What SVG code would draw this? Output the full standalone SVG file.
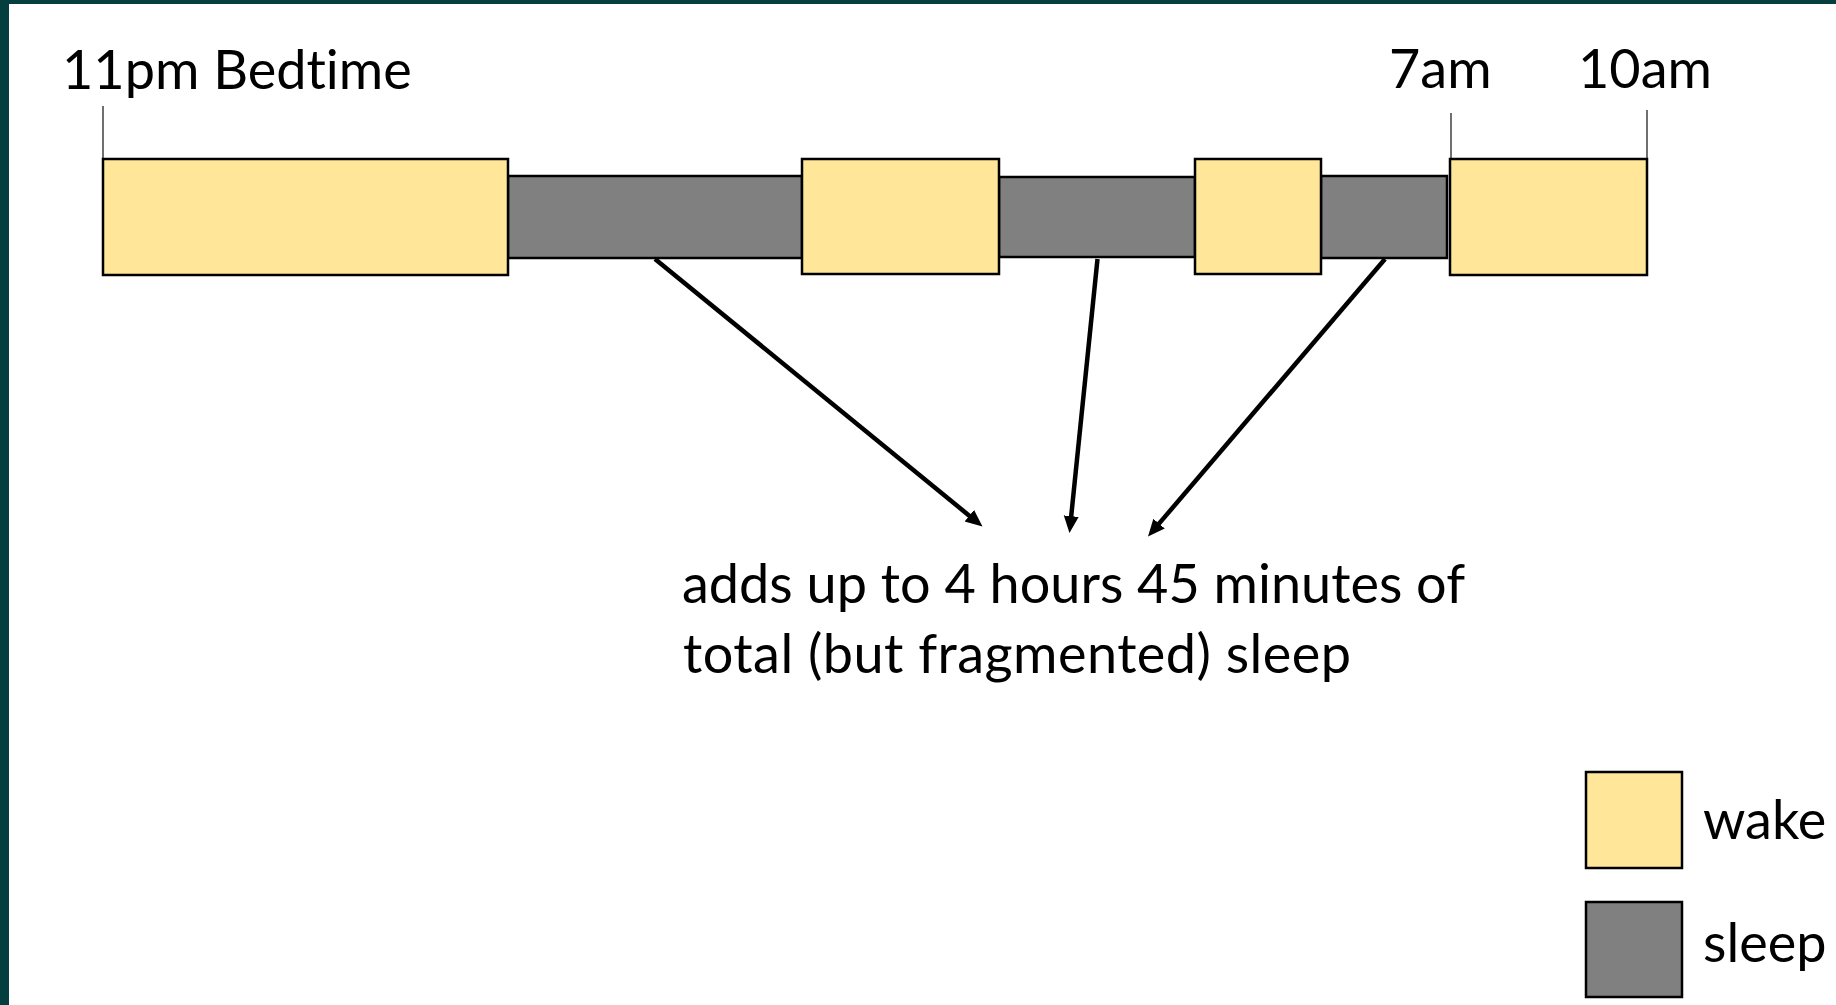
<svg xmlns="http://www.w3.org/2000/svg" width="1836" height="1005" viewBox="0 0 1836 1005">
  <style>
    .wake { fill: #FFE699; stroke: #000; stroke-width: 2.5; }
    .sleep { fill: #808080; stroke: #000; stroke-width: 2.5; }
    .tick { stroke: #222; stroke-width: 1.3; fill: none; }
    .lbl { font-family: Lato, "Open Sans", "Liberation Sans", sans-serif; font-size: 54px; fill: #000; font-variant-ligatures: none; font-feature-settings: "liga" 0, "dlig" 0; }
    .arrow { stroke: #000; stroke-width: 4.5; fill: none; marker-end: url(#ah); }
  </style>
  <defs>
    <marker id="ah" markerUnits="userSpaceOnUse" markerWidth="18" markerHeight="16" refX="5" refY="7.5" orient="auto" viewBox="0 0 18 16">
      <path d="M0,0 L17,7.5 L0,15 z" fill="#000"/>
    </marker>
  </defs>
  <rect x="0" y="0" width="1836" height="1005" fill="#fff"/>
  <rect x="0" y="0" width="1836" height="4" fill="#053E3E"/>
  <rect x="0" y="0" width="9" height="1005" fill="#053E3E"/>

  <g id="ticks">
    <line class="tick" x1="103" y1="106" x2="103" y2="159"/>
    <line class="tick" x1="1451" y1="113" x2="1451" y2="159"/>
    <line class="tick" x1="1647" y1="110" x2="1647" y2="159"/>
  </g>

  <g id="sleep1"><rect class="sleep" x="508" y="176" width="294" height="82"/></g>
  <g id="sleep2"><rect class="sleep" x="999" y="177" width="196" height="80"/></g>
  <g id="sleep3"><rect class="sleep" x="1321" y="176" width="126" height="82"/></g>

  <g id="wake1"><rect class="wake" x="103" y="159" width="405" height="116"/></g>
  <g id="wake2"><rect class="wake" x="802" y="159" width="197" height="115"/></g>
  <g id="wake3"><rect class="wake" x="1195" y="159" width="126" height="115"/></g>
  <g id="wake4"><rect class="wake" x="1450" y="159" width="197" height="116"/></g>

  <g id="label-bedtime"><text class="lbl" x="62" y="89">11pm Bedtime</text></g>
  <g id="label-7am"><text class="lbl" x="1389" y="88">7am</text></g>
  <g id="label-10am"><text class="lbl" x="1578" y="88">10am</text></g>

  <g id="connectors">
    <line class="arrow" x1="655" y1="259" x2="973.2" y2="518.9"/>
    <line class="arrow" x1="1097.5" y1="259" x2="1070.7" y2="521.1"/>
    <line class="arrow" x1="1385" y1="259" x2="1155.8" y2="527.4"/>
  </g>

  <g id="summary">
    <text class="lbl" x="682" y="603">adds up to 4 hours 45 minutes of</text>
    <text class="lbl" x="683" y="673" textLength="668" lengthAdjust="spacing">total (but fragmented) sleep</text>
  </g>

  <g id="legend-wake">
    <rect class="wake" x="1586" y="772" width="96" height="96"/>
    <text class="lbl" x="1703" y="839">wake</text>
  </g>
  <g id="legend-sleep">
    <rect class="sleep" x="1586" y="902" width="96" height="95"/>
    <text class="lbl" x="1703" y="962">sleep</text>
  </g>
</svg>
